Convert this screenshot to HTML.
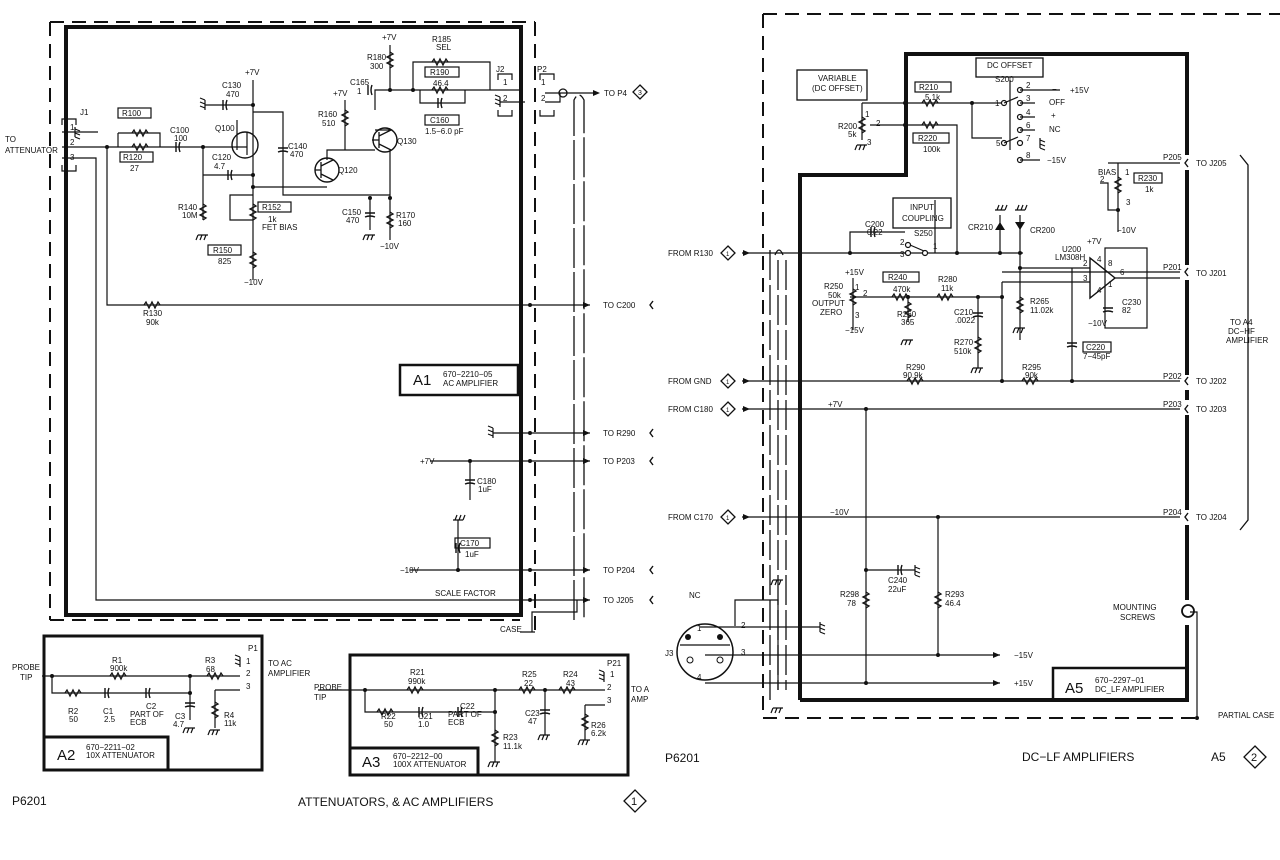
<!DOCTYPE html>
<html><head><meta charset="utf-8"><style>
html,body{margin:0;padding:0;background:#fff;width:1280px;height:860px;overflow:hidden}
svg{display:block}
text{font-family:"Liberation Sans",sans-serif;font-size:8px;fill:#111}
.b{font-size:11px}
.t{font-size:12px}
.big{font-size:15px}
</style></head><body>
<svg width="1280" height="860" viewBox="0 0 1280 860" xmlns="http://www.w3.org/2000/svg">
<defs>
<path id="rh" d="M-8 0 l2 -3 l3 6 l3 -6 l3 6 l3 -6 l2 3" fill="none" stroke="#111" stroke-width="1.3"/>
<path id="rv" d="M0 -8 l3 2 l-6 3 l6 3 l-6 3 l6 3 l-3 2" fill="none" stroke="#111" stroke-width="1.3"/>
<path id="gnd" d="M-5 0 h10 M-5 0 l-2 5 M-1 0 l-2 5 M3 0 l-2 5" fill="none" stroke="#111" stroke-width="1.2"/>
<path id="ch" d="M-2 -5 v10 M2 -5 q-2 5 0 10" fill="none" stroke="#111" stroke-width="1.4"/>
<path id="cv" d="M-5 -2 h10 M-5 2 q5 -2 10 0" fill="none" stroke="#111" stroke-width="1.4"/>
<circle id="d" r="2" fill="#111"/>
<path id="ar" d="M0 0 l-7 -3 v6z" fill="#111"/>
<path id="lt" d="M3 -4 l-3 4 l3 4" fill="none" stroke="#111" stroke-width="1.4"/>
</defs>
<g fill="none" stroke="#111">
<!-- LEFT outer dashed -->
<path d="M50 22 V620 M50 22 H535 M535 22 V632 M50 620 H520" stroke-width="2" stroke-dasharray="14 8"/>
<!-- LEFT thick inner -->
<path d="M66 615 V27 H521 V615 Z" stroke-width="4"/>
<!-- case -->
<path d="M535 632 H520 M532 632 V612 H577 V600" stroke-width="1.2"/>
<!-- coax left -->
<path d="M574 620 V100 q5 -10 10 0 V620" stroke-width="1.3" stroke-dasharray="40 4"/>
<!-- J1 -->
<path d="M62 125 v-6 h14 v6 M62 165 v6 h14 v-6" stroke-width="1.2"/>
<path d="M62 132 H98 M62 147 H247 M62 158 H96 V600 H590 M107 147 V305 H590" stroke-width="1.2"/>
<path d="M118 133 H160 V147 M118 133 V147" stroke-width="1.2"/>
<path d="M237 120 V150 M247 155 V132 M253 80 V280 M205 105 H253 M253 112 H283 V195 H390 M203 147 V220 M203 175 H253 M253 187 H327 M327 160 V150 H375 M375 110 V90 H520 M345 100 V150 M390 45 V90 M390 150 V240 M370 198 V230 M375 130 H390 M253 195 H230 V220 H253" stroke-width="1.2"/>
<path d="M413 90 V62 H490 V90 M420 90 V103 H465 V90" stroke-width="1.2"/>
<path d="M500 102 H525 M545 102 H560 V93" stroke-width="1.2"/>
<path d="M545 93 H595" stroke-width="1.2"/>
<path d="M498 80 v-6 h14 v6 M498 110 v6 h14 v-6 M540 80 v-6 h14 v6 M540 110 v6 h14 v-6" stroke-width="1.2"/>
<circle cx="563" cy="93" r="4" stroke-width="1.3"/>
<circle cx="245" cy="145" r="13" stroke-width="1.4"/>
<circle cx="327" cy="170" r="12" stroke-width="1.4"/>
<circle cx="385" cy="140" r="12" stroke-width="1.4"/>
<path d="M321 162 V178 M321 170 H315 M321 166 L333 160 M321 174 L333 180 M379 132 V148 M379 140 H372 M379 136 L391 130 M379 144 L391 150" stroke-width="1.3"/>
<!-- lower left lines -->
<path d="M493 433 H590 M430 461 H590 M470 461 V500 M458 520 V570 M410 570 H590" stroke-width="1.2"/>
<!-- A1 box -->
<rect x="400" y="365" width="118" height="30" stroke-width="2.5"/>
<!-- A2 -->
<path d="M44 762 V636 H262 V770 H44 Z" stroke-width="3"/>
<path d="M44 737 H168 V770" stroke-width="3"/>
<path d="M42 676 H240 M52 676 V693 H190 V676 M190 693 V720 M215 690 H240 M215 690 V728" stroke-width="1.2"/>
<!-- A3 -->
<path d="M350 655 H628 V775 H350 Z" stroke-width="3"/>
<path d="M350 748 H478 V775" stroke-width="3"/>
<path d="M318 690 H605 M365 690 V712 H495 V690 M495 712 V762 M545 690 V735 M585 705 H605 M585 705 V740" stroke-width="1.2"/>
<!-- RIGHT outer dashed -->
<path d="M763 14 H1280 M763 14 V718 H1200" stroke-width="2" stroke-dasharray="14 8"/>
<!-- RIGHT thick -->
<path d="M800 700 V175 H906 V54 H1187 V155 M1187 170 V265 M1187 280 V375 M1187 390 V400 M1187 415 V510 M1187 525 V600 M1187 625 V700 H800" stroke-width="4"/>
<rect x="1053" y="668" width="134" height="32" stroke-width="2.5"/>
<path d="M1190 612 H1197 V718" stroke-width="1.2"/>
<!-- coax right -->
<path d="M770 250 V700 M778 260 V690 M786 260 V690" stroke-width="1.3" stroke-dasharray="30 5"/>
<path d="M775 255 q4 -10 8 0" stroke-width="1.3"/>
<!-- right signals -->
<path d="M742 253 H1023 M742 381 H1180 M742 409 H1180 M742 517 H1180 M1002 272 H1180 M1150 272 H1180" stroke-width="1.3"/>
<path d="M862 103 H1002 M862 103 V140 M870 125 H957 V253 M972 103 V138 H1002 M1108 163 H1180 M1118 163 V198 M1118 180 V232 M1100 183 H1108 V210 H1118 V200" stroke-width="1.2"/>
<path d="M850 253 V232 H905 M850 253 H905 M935 253 V200" stroke-width="1.2"/>
<path d="M1000 215 V253 M1020 215 V340" stroke-width="1.2"/>
<path d="M1020 268 H1090 M1002 282 V381 M1002 282 H1090 M850 297 H1002 M853 278 V330 M908 297 V322 M978 297 V368 M1072 268 V381" stroke-width="1.2"/>
<path d="M1090 258 V298 L1115 278 Z" stroke-width="1.4"/>
<rect x="1105" y="248" width="42" height="80" stroke-width="1.2"/>
<path d="M1115 278 H1180" stroke-width="1.3"/>
<path d="M866 409 V683 M938 517 V655 M866 570 H915 M705 655 H1000 M705 683 H1000 M700 627 H820 M735 626 V600 H778 V690" stroke-width="1.2"/>
<circle cx="705" cy="652" r="28" stroke-width="1.5"/>
<path d="M680 645 H730" stroke-width="1.2"/>
<!-- switch -->
<path d="M1010 80 V150" stroke-width="1.2"/>
<circle cx="1188" cy="611" r="6" stroke-width="1.8"/>
<!-- bracket -->
<path d="M1240 155 l8 10 V520 l-8 10" stroke-width="1.3"/>
<!-- label boxes -->
<rect x="797" y="70" width="70" height="30" stroke-width="1.3"/>
<rect x="976" y="58" width="67" height="19" stroke-width="1.3"/>
<rect x="893" y="198" width="58" height="30" stroke-width="1.3"/>
<rect x="118" y="108" width="33" height="10" stroke-width="1.2"/>
<rect x="120" y="152" width="33" height="10" stroke-width="1.2"/>
<rect x="425" y="67" width="34" height="10" stroke-width="1.2"/>
<rect x="425" y="115" width="34" height="10" stroke-width="1.2"/>
<rect x="258" y="202" width="33" height="10" stroke-width="1.2"/>
<rect x="208" y="245" width="33" height="10" stroke-width="1.2"/>
<rect x="455" y="538" width="35" height="10" stroke-width="1.2"/>
<rect x="915" y="82" width="36" height="10" stroke-width="1.2"/>
<rect x="913" y="133" width="36" height="10" stroke-width="1.2"/>
<rect x="1134" y="173" width="28" height="10" stroke-width="1.2"/>
<rect x="883" y="272" width="36" height="10" stroke-width="1.2"/>
<rect x="1083" y="342" width="28" height="10" stroke-width="1.2"/>
<!-- diamonds -->
<path d="M728 246 l7 7 l-7 7 l-7 -7z M728 374 l7 7 l-7 7 l-7 -7z M728 402 l7 7 l-7 7 l-7 -7z M728 510 l7 7 l-7 7 l-7 -7z M640 85 l7 7 l-7 7 l-7 -7z M635 790 l11 11 l-11 11 l-11 -11z M1255 746 l11 11 l-11 11 l-11 -11z" stroke-width="1.3"/>
</g>
<!-- symbols placements -->
<use href="#rh" x="140" y="133"/><use href="#rh" x="140" y="147"/><use href="#ch" x="178" y="147"/>
<use href="#rh" x="152" y="305"/><use href="#ch" x="225" y="105"/><use href="#ch" x="230" y="175"/>
<use href="#cv" x="283" y="150"/><use href="#rv" x="203" y="212"/><use href="#rv" x="253" y="212"/><use href="#rv" x="253" y="260"/>
<use href="#rv" x="345" y="118"/><use href="#rv" x="390" y="60"/><use href="#cv" x="370" y="215"/><use href="#rv" x="390" y="220"/>
<use href="#ch" x="370" y="90"/><use href="#rh" x="440" y="62"/><use href="#rh" x="440" y="90"/><use href="#ch" x="440" y="103"/>
<use href="#cv" x="470" y="482"/><use href="#ch" x="458" y="548"/>
<use href="#gnd" x="203" y="235"/><use href="#gnd" x="370" y="235"/>
<g transform="translate(205 105) rotate(90)"><use href="#gnd"/></g>
<g transform="translate(75 132) rotate(-90)"><use href="#gnd"/></g>
<g transform="translate(493 433) rotate(90)"><use href="#gnd"/></g>
<g transform="translate(500 102) rotate(90)"><use href="#gnd"/></g>
<g transform="translate(458 520) rotate(180)"><use href="#gnd"/></g>
<use href="#ar" x="590" y="305"/><use href="#ar" x="590" y="433"/><use href="#ar" x="590" y="461"/><use href="#ar" x="590" y="570"/><use href="#ar" x="590" y="600"/><use href="#ar" x="600" y="93"/>
<use href="#lt" x="650" y="305"/><use href="#lt" x="650" y="433"/><use href="#lt" x="650" y="461"/><use href="#lt" x="650" y="570"/><use href="#lt" x="650" y="600"/>
<use href="#d" x="107" y="147"/><use href="#d" x="203" y="147"/><use href="#d" x="253" y="105"/><use href="#d" x="253" y="175"/><use href="#d" x="253" y="187"/><use href="#d" x="390" y="90"/><use href="#d" x="413" y="90"/><use href="#d" x="390" y="198"/><use href="#d" x="370" y="198"/><use href="#d" x="470" y="461"/><use href="#d" x="458" y="570"/><use href="#d" x="530" y="570"/><use href="#d" x="530" y="461"/><use href="#d" x="530" y="433"/><use href="#d" x="530" y="305"/><use href="#d" x="530" y="600"/>
<!-- A2/A3 symbols -->
<use href="#rh" x="118" y="676"/><use href="#rh" x="215" y="676"/><use href="#rh" x="73" y="693"/><use href="#ch" x="107" y="693"/><use href="#ch" x="148" y="693"/><use href="#cv" x="190" y="705"/><use href="#rv" x="215" y="710"/><use href="#gnd" x="190" y="728"/><use href="#gnd" x="215" y="730"/><use href="#d" x="52" y="676"/><use href="#d" x="190" y="676"/><use href="#d" x="190" y="693"/>
<use href="#rh" x="415" y="690"/><use href="#rh" x="527" y="690"/><use href="#rh" x="567" y="690"/><use href="#rh" x="385" y="712"/><use href="#ch" x="421" y="712"/><use href="#ch" x="460" y="712"/><use href="#rv" x="495" y="738"/><use href="#cv" x="545" y="712"/><use href="#rv" x="585" y="722"/><use href="#gnd" x="495" y="762"/><use href="#gnd" x="545" y="735"/><use href="#gnd" x="585" y="740"/><use href="#d" x="365" y="690"/><use href="#d" x="495" y="690"/><use href="#d" x="545" y="690"/><use href="#d" x="495" y="712"/>
<g transform="translate(240 662) rotate(90)"><use href="#gnd"/></g>
<g transform="translate(604 677) rotate(90)"><use href="#gnd"/></g>
<!-- right symbols -->
<use href="#rv" x="862" y="125"/><use href="#gnd" x="862" y="145"/><use href="#rh" x="930" y="103"/><use href="#rh" x="930" y="125"/>
<use href="#rv" x="1118" y="185"/><use href="#ch" x="873" y="232"/>
<use href="#rh" x="900" y="297"/><use href="#rh" x="945" y="297"/><use href="#rv" x="853" y="297"/><use href="#rv" x="908" y="310"/><use href="#gnd" x="908" y="340"/><use href="#cv" x="978" y="315"/><use href="#rv" x="978" y="345"/><use href="#gnd" x="978" y="368"/><use href="#rv" x="1020" y="305"/><use href="#gnd" x="1020" y="328"/><use href="#cv" x="1072" y="345"/><use href="#cv" x="1108" y="310"/>
<use href="#rh" x="915" y="381"/><use href="#rh" x="1030" y="381"/><use href="#ch" x="900" y="570"/><use href="#rv" x="866" y="600"/><use href="#rv" x="938" y="600"/>
<g transform="translate(820 627) rotate(-90)"><use href="#gnd"/></g>
<g transform="translate(915 570) rotate(-90)"><use href="#gnd"/></g>
<g transform="translate(1000 210) rotate(180)"><use href="#gnd"/></g>
<g transform="translate(1020 210) rotate(180)"><use href="#gnd"/></g>
<g transform="translate(1040 143) rotate(-90)"><use href="#gnd"/></g>
<use href="#gnd" x="778" y="580"/><use href="#gnd" x="778" y="708"/>
<path d="M995 230 h10 l-5 -8z M1015 222 h10 l-5 8z" fill="#111"/>
<use href="#ar" x="750" y="253"/><use href="#ar" x="750" y="381"/><use href="#ar" x="750" y="409"/><use href="#ar" x="750" y="517"/><use href="#ar" x="1000" y="655"/><use href="#ar" x="1000" y="683"/>
<use href="#lt" x="1185" y="163"/><use href="#lt" x="1185" y="272"/><use href="#lt" x="1185" y="381"/><use href="#lt" x="1185" y="409"/><use href="#lt" x="1185" y="517"/>
<use href="#d" x="800" y="253"/><use href="#d" x="850" y="253"/><use href="#d" x="957" y="253"/><use href="#d" x="1000" y="253"/><use href="#d" x="1020" y="253"/><use href="#d" x="1020" y="268"/><use href="#d" x="1002" y="297"/><use href="#d" x="978" y="297"/><use href="#d" x="908" y="297"/><use href="#d" x="1002" y="381"/><use href="#d" x="1072" y="381"/><use href="#d" x="800" y="381"/><use href="#d" x="800" y="409"/><use href="#d" x="866" y="409"/><use href="#d" x="800" y="517"/><use href="#d" x="938" y="517"/><use href="#d" x="866" y="570"/><use href="#d" x="938" y="655"/><use href="#d" x="866" y="683"/><use href="#d" x="800" y="627"/><use href="#d" x="800" y="655"/><use href="#d" x="800" y="683"/><use href="#d" x="972" y="103"/><use href="#d" x="905" y="103"/><use href="#d" x="905" y="125"/><use href="#d" x="1118" y="210"/><use href="#d" x="1197" y="718"/>
<g fill="#fff" stroke="#111" stroke-width="1.2"><circle cx="1004" cy="103" r="2.5"/><circle cx="1020" cy="90" r="2.5"/><circle cx="1020" cy="103" r="2.5"/><circle cx="1020" cy="117" r="2.5"/><circle cx="1020" cy="130" r="2.5"/><circle cx="1004" cy="143" r="2.5"/><circle cx="1020" cy="143" r="2.5"/><circle cx="1020" cy="160" r="2.5"/><circle cx="908" cy="245" r="2.5"/><circle cx="908" cy="253" r="2.5"/><circle cx="925" cy="253" r="2.5"/></g>
<path d="M1020 90 H1060 M1020 103 H1035 M1020 117 H1035 M1020 130 H1035 M1020 160 H1040 M1004 103 L1018 97 M1004 143 L1018 137 M910 245 L924 251" stroke="#111" stroke-width="1.2" fill="none"/>
<circle cx="688" cy="637" r="3" fill="#111"/><circle cx="720" cy="637" r="3" fill="#111"/><circle cx="690" cy="660" r="3" fill="none" stroke="#111"/><circle cx="720" cy="660" r="3" fill="none" stroke="#111"/>
<!-- TEXT LEFT -->
<text x="5" y="142">TO</text><text x="5" y="153">ATTENUATOR</text>
<text x="80" y="115">J1</text><text x="70" y="130">1</text><text x="70" y="145">2</text><text x="70" y="160">3</text>
<text x="122" y="116">R100</text><text x="123" y="160">R120</text><text x="130" y="171">27</text>
<text x="170" y="133">C100</text><text x="174" y="141">100</text><text x="212" y="160">C120</text><text x="214" y="169">4.7</text>
<text x="215" y="131">Q100</text><text x="245" y="75">+7V</text><text x="222" y="88">C130</text><text x="226" y="97">470</text>
<text x="288" y="149">C140</text><text x="290" y="157">470</text><text x="338" y="173">Q120</text><text x="397" y="144">Q130</text>
<text x="318" y="117">R160</text><text x="322" y="126">510</text><text x="333" y="96">+7V</text><text x="350" y="85">C165</text><text x="357" y="94">1</text>
<text x="382" y="40">+7V</text><text x="367" y="60">R180</text><text x="370" y="69">300</text><text x="432" y="42">R185</text><text x="436" y="50">SEL</text>
<text x="430" y="75">R190</text><text x="433" y="86">46.4</text><text x="430" y="123">C160</text><text x="425" y="134">1.5−6.0 pF</text>
<text x="496" y="72">J2</text><text x="537" y="72">P2</text><text x="503" y="85">1</text><text x="503" y="101">2</text><text x="541" y="85">1</text><text x="541" y="101">2</text>
<text x="604" y="96">TO P4</text><text x="638" y="95" style="font-size:7px">3</text>
<text x="178" y="210">R140</text><text x="182" y="218">10M</text><text x="262" y="210">R152</text><text x="268" y="222">1k</text><text x="262" y="230">FET BIAS</text>
<text x="213" y="253">R150</text><text x="218" y="264">825</text><text x="244" y="285">−10V</text>
<text x="342" y="215">C150</text><text x="346" y="223">470</text><text x="396" y="218">R170</text><text x="398" y="226">160</text><text x="380" y="249">−10V</text>
<text x="143" y="316">R130</text><text x="146" y="325">90k</text>
<text x="413" y="385" class="big">A1</text><text x="443" y="377">670−2210−05</text><text x="443" y="386">AC AMPLIFIER</text>
<text x="603" y="308">TO C200</text><text x="603" y="436">TO R290</text><text x="603" y="464">TO P203</text><text x="603" y="573">TO P204</text><text x="603" y="603">TO J205</text>
<text x="420" y="464">+7V</text><text x="477" y="484">C180</text><text x="478" y="492">1uF</text><text x="460" y="546">C170</text><text x="465" y="557">1uF</text><text x="400" y="573">−10V</text>
<text x="435" y="596">SCALE FACTOR</text><text x="500" y="632">CASE</text>
<!-- A2 text -->
<text x="12" y="670">PROBE</text><text x="20" y="680">TIP</text><text x="112" y="663">R1</text><text x="110" y="671">900k</text><text x="205" y="663">R3</text><text x="206" y="672">68</text>
<text x="248" y="651">P1</text><text x="246" y="664">1</text><text x="246" y="676">2</text><text x="246" y="689">3</text><text x="268" y="666">TO AC</text><text x="268" y="676">AMPLIFIER</text>
<text x="68" y="714">R2</text><text x="69" y="722">50</text><text x="103" y="714">C1</text><text x="104" y="722">2.5</text><text x="146" y="709">C2</text><text x="130" y="717">PART OF</text><text x="130" y="725">ECB</text>
<text x="175" y="719">C3</text><text x="173" y="727">4.7</text><text x="224" y="718">R4</text><text x="224" y="726">11k</text>
<text x="57" y="760" class="big">A2</text><text x="86" y="750">670−2211−02</text><text x="86" y="758">10X ATTENUATOR</text>
<!-- A3 text -->
<text x="314" y="690">PROBE</text><text x="314" y="700">TIP</text><text x="410" y="675">R21</text><text x="408" y="684">990k</text><text x="522" y="677">R25</text><text x="524" y="686">22</text><text x="563" y="677">R24</text><text x="566" y="686">43</text>
<text x="607" y="666">P21</text><text x="610" y="677">1</text><text x="607" y="690">2</text><text x="607" y="703">3</text><text x="631" y="692">TO A</text><text x="631" y="702">AMP</text>
<text x="381" y="719">R22</text><text x="384" y="727">50</text><text x="418" y="719">C21</text><text x="418" y="727">1.0</text><text x="460" y="709">C22</text><text x="448" y="717">PART OF</text><text x="448" y="725">ECB</text>
<text x="503" y="740">R23</text><text x="503" y="749">11.1k</text><text x="525" y="716">C23</text><text x="528" y="724">47</text><text x="591" y="728">R26</text><text x="591" y="736">6.2k</text>
<text x="362" y="767" class="big">A3</text><text x="393" y="759">670−2212−00</text><text x="393" y="767">100X ATTENUATOR</text>
<text x="12" y="805" class="t">P6201</text><text x="298" y="806" class="t">ATTENUATORS, &amp; AC AMPLIFIERS</text><text x="631" y="805" class="b">1</text>
<!-- TEXT RIGHT -->
<text x="818" y="81">VARIABLE</text><text x="812" y="91">(DC OFFSET)</text><text x="987" y="68">DC OFFSET</text><text x="995" y="82">S200</text>
<text x="919" y="90">R210</text><text x="925" y="100">5.1k</text><text x="918" y="141">R220</text><text x="923" y="152">100k</text>
<text x="838" y="129">R200</text><text x="848" y="137">5k</text><text x="865" y="117">1</text><text x="876" y="126">2</text><text x="867" y="145">3</text>
<text x="995" y="106">1</text><text x="1026" y="88">2</text><text x="1026" y="101">3</text><text x="1026" y="115">4</text><text x="1026" y="128">6</text><text x="996" y="146">5</text><text x="1026" y="141">7</text><text x="1026" y="158">8</text>
<text x="1052" y="92">−</text><text x="1070" y="93">+15V</text><text x="1049" y="105">OFF</text><text x="1051" y="118">+</text><text x="1049" y="132">NC</text><text x="1047" y="163">−15V</text>
<text x="1163" y="160">P205</text><text x="1196" y="166">TO J205</text><text x="1098" y="175">BIAS</text><text x="1100" y="182">2</text><text x="1125" y="175">1</text><text x="1126" y="205">3</text>
<text x="1138" y="181">R230</text><text x="1145" y="192">1k</text><text x="1117" y="233">−10V</text>
<text x="910" y="210">INPUT</text><text x="902" y="221">COUPLING</text><text x="865" y="227">C200</text><text x="867" y="235">0.22</text><text x="914" y="236">S250</text><text x="900" y="245">2</text><text x="900" y="257">3</text><text x="933" y="249">1</text>
<text x="968" y="230">CR210</text><text x="1030" y="233">CR200</text><text x="1062" y="252">U200</text><text x="1055" y="260">LM308H</text><text x="1087" y="244">+7V</text>
<text x="1083" y="266">2</text><text x="1083" y="281">3</text><text x="1097" y="262">4</text><text x="1097" y="293">4</text><text x="1108" y="266">8</text><text x="1120" y="275">6</text><text x="1108" y="287">1</text><text x="1122" y="305">C230</text><text x="1122" y="313">82</text><text x="1088" y="326">−10V</text>
<text x="1163" y="270">P201</text><text x="1196" y="276">TO J201</text>
<text x="1230" y="325">TO A4</text><text x="1228" y="334">DC−HF</text><text x="1226" y="343">AMPLIFIER</text>
<text x="668" y="256">FROM R130</text><text x="726" y="256" style="font-size:6px">1</text>
<text x="845" y="275">+15V</text><text x="824" y="289">R250</text><text x="828" y="298">50k</text><text x="812" y="306">OUTPUT</text><text x="820" y="315">ZERO</text><text x="855" y="290">1</text><text x="863" y="296">2</text><text x="855" y="318">3</text><text x="845" y="333">−15V</text>
<text x="888" y="280">R240</text><text x="893" y="292">470k</text><text x="938" y="282">R280</text><text x="941" y="291">11k</text><text x="897" y="317">R260</text><text x="901" y="325">365</text>
<text x="954" y="315">C210</text><text x="955" y="323">.0022</text><text x="954" y="345">R270</text><text x="954" y="354">510k</text><text x="1030" y="304">R265</text><text x="1030" y="313">11.02k</text>
<text x="1086" y="350">C220</text><text x="1083" y="359">7−45pF</text>
<text x="906" y="370">R290</text><text x="903" y="378">90.9k</text><text x="1022" y="370">R295</text><text x="1025" y="378">90k</text>
<text x="668" y="384">FROM GND</text><text x="668" y="412">FROM C180</text><text x="668" y="520">FROM C170</text>
<text x="726" y="384" style="font-size:6px">1</text><text x="726" y="412" style="font-size:6px">1</text><text x="726" y="520" style="font-size:6px">1</text>
<text x="828" y="407">+7V</text><text x="830" y="515">−10V</text>
<text x="1163" y="379">P202</text><text x="1196" y="384">TO J202</text><text x="1163" y="407">P203</text><text x="1196" y="412">TO J203</text><text x="1163" y="515">P204</text><text x="1196" y="520">TO J204</text>
<text x="888" y="583">C240</text><text x="888" y="592">22uF</text><text x="840" y="597">R298</text><text x="847" y="606">78</text><text x="945" y="597">R293</text><text x="945" y="606">46.4</text>
<text x="1113" y="610">MOUNTING</text><text x="1120" y="620">SCREWS</text>
<text x="689" y="598">NC</text><text x="697" y="631">1</text><text x="741" y="628">2</text><text x="741" y="655">3</text><text x="697" y="680">4</text><text x="665" y="656">J3</text>
<text x="1014" y="658">−15V</text><text x="1014" y="686">+15V</text>
<text x="1065" y="693" class="big">A5</text><text x="1095" y="683">670−2297−01</text><text x="1095" y="692">DC_LF AMPLIFIER</text>
<text x="1218" y="718">PARTIAL CASE</text>
<text x="665" y="762" class="t">P6201</text><text x="1022" y="761" class="t">DC−LF AMPLIFIERS</text><text x="1211" y="761" class="t">A5</text><text x="1251" y="761" class="b">2</text>
</svg>
</body></html>
